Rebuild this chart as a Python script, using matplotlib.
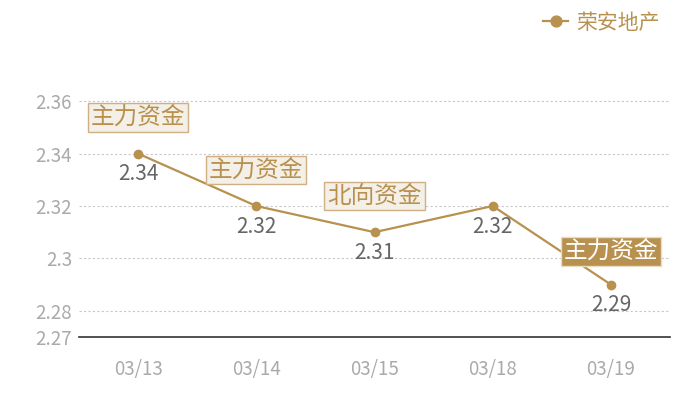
import matplotlib
matplotlib.use("Agg")
import matplotlib.pyplot as plt

plt.rcParams['font.family'] = ['Noto Sans CJK SC', 'DejaVu Sans']

dates = ["03/13", "03/14", "03/15", "03/18", "03/19"]
prices = [2.34, 2.32, 2.31, 2.32, 2.29]
tags = ["主力资金", "主力资金", "北向资金", "", "主力资金"]
series_name = "荣安地产"
yticks = [2.27, 2.28, 2.3, 2.32, 2.34, 2.36]
ytick_labels = ["2.27", "2.28", "2.3", "2.32", "2.34", "2.36"]

gold = "#b8914f"

fig = plt.figure(figsize=(7, 4), dpi=100)
ax = fig.add_axes([79 / 700, 1 - 337 / 400, 591 / 700, 262 / 400])

x = list(range(len(dates)))
ax.plot(x, prices, color=gold, lw=1.6, marker="o", ms=6, zorder=3, label=series_name)

ax.set_xlim(-0.5, len(dates) - 0.5)
ax.set_ylim(2.27, 2.37)
ax.set_yticks(yticks)
ax.set_yticklabels(ytick_labels)
ax.set_xticks(x)
ax.set_xticklabels(dates)
ax.tick_params(axis="both", length=0, labelsize=13.5, colors="#aaaaaa")
ax.tick_params(axis="x", pad=16)
ax.tick_params(axis="y", pad=5)

for t in yticks[1:]:
    ax.axhline(t, color="#c8c8c8", lw=0.8, ls=(0, (2, 2)), zorder=1)

for s in ["top", "right", "left"]:
    ax.spines[s].set_visible(False)
ax.spines["bottom"].set_color("#333333")
ax.spines["bottom"].set_linewidth(1.2)

for i, (p, tag) in enumerate(zip(prices, tags)):
    ax.annotate(f"{p:g}", (i, p), xytext=(0, -15), textcoords="offset points",
                ha="center", va="center", fontsize=15, color="#666666")
    if not tag:
        continue
    last = i == len(prices) - 1
    ax.annotate(tag, (i, p), xytext=(0, 24 if last else 26), textcoords="offset points",
                ha="center", va="center", fontsize=17,
                color="white" if last else gold, zorder=4,
                bbox=dict(boxstyle="square,pad=0.12",
                          fc=gold if last else "#f4efe7",
                          ec="#e8dcc6" if last else "#cfb084", lw=1.0))

leg = fig.legend(loc="upper right", bbox_to_anchor=(0.97, 1.018), frameon=False,
                 fontsize=15, handlelength=1.2, handletextpad=0.4, markerscale=1.3)
for txt in leg.get_texts():
    txt.set_color(gold)

fig.savefig("out.png", dpi=100)
